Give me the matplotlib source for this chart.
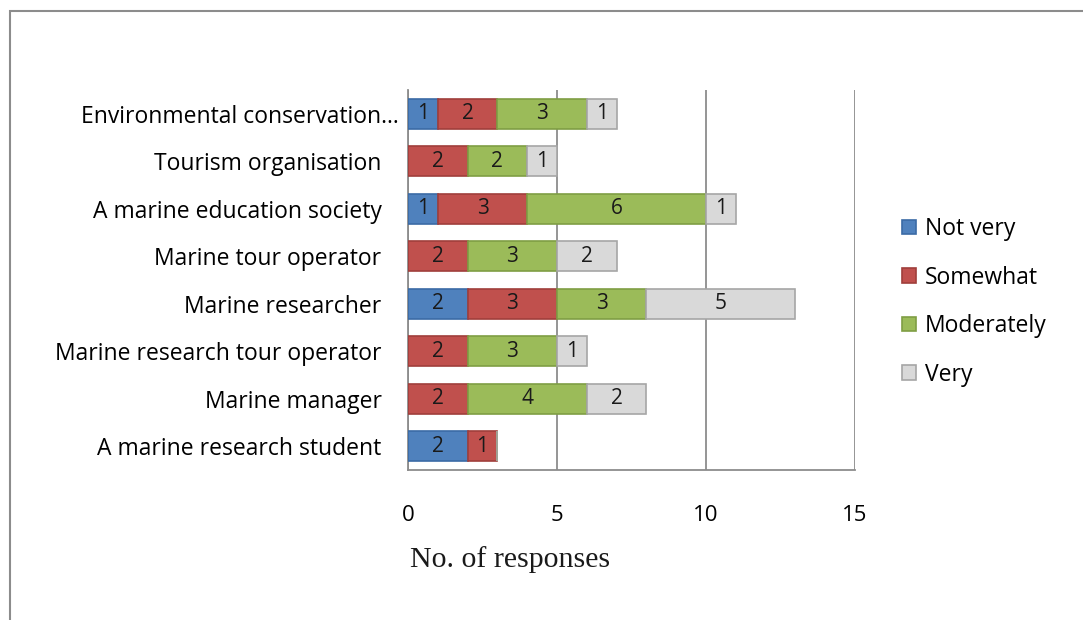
import numpy as np
import matplotlib.pyplot as plt
from matplotlib.patches import Rectangle
from matplotlib.transforms import ScaledTranslation

categories = ['Environmental conservation...', 'Tourism organisation',
              'A marine education society', 'Marine tour operator',
              'Marine researcher', 'Marine research tour operator',
              'Marine manager', 'A marine research student']
not_very = [1, 0, 1, 0, 2, 0, 0, 2]
somewhat = [2, 2, 3, 2, 3, 2, 2, 1]
moderately = [3, 2, 6, 3, 3, 3, 4, 0]
very = [1, 1, 1, 2, 5, 1, 2, 0]
series = ['Not very', 'Somewhat', 'Moderately', 'Very']

faces = ['#4F81BD', '#C0504D', '#9BBB59', '#D9D9D9']
edges = ['#3B6BA5', '#A03E3B', '#7F9E44', '#A6A6A6']

W, H = 1083, 620
fig = plt.figure(figsize=(W / 100, H / 100), dpi=100)
ax = fig.add_axes([408 / W, 1 - 470 / H, (855 - 408) / W, (470 - 90) / H])

font = ['Open Sans', 'DejaVu Sans']
y = np.arange(len(categories))
left = np.zeros(len(categories))
for vals, name, fc, ec in zip([not_very, somewhat, moderately, very], series, faces, edges):
    vals = np.array(vals, dtype=float)
    bars = ax.barh(y, vals, left=left, height=0.63, color=fc, edgecolor=ec,
                   linewidth=1.2, label=name, zorder=3)
    for b, v in zip(bars, vals):
        if v > 0:
            ax.text(b.get_x() + v / 2, b.get_y() + b.get_height() / 2, f'{int(v)}',
                    ha='center', va='center', fontsize=15, family=font,
                    color='#1a1a1a', zorder=4)
    left += vals

ax.set_xlim(0, 15)
ax.set_ylim(len(categories) - 0.5, -0.5)
ax.set_xticks([0, 5, 10, 15])
ax.set_yticks(y)
ax.set_yticklabels(categories, family=font, fontsize=16.5)
for lbl in ax.get_xticklabels():
    lbl.set_family(font)
    lbl.set_fontsize(16)
ax.tick_params(axis='x', length=0, pad=25)
ax.tick_params(axis='y', length=0, pad=19)
ax.xaxis.grid(True, color='#8c8c8c', linewidth=1.3, zorder=0)
ax.set_axisbelow(True)
for s in ['top', 'right']:
    ax.spines[s].set_visible(False)
for s in ['left', 'bottom']:
    ax.spines[s].set_color('#8c8c8c')
    ax.spines[s].set_linewidth(1.3)

# truncated first label runs a little past the others
first = ax.get_yticklabels()[0]
first.set_transform(first.get_transform() + ScaledTranslation(0.17, 0, fig.dpi_scale_trans))

leg = fig.legend(loc='upper left', bbox_to_anchor=(893 / W, 1 - 208 / H),
                 frameon=False, prop={'family': font, 'size': 16.5},
                 handlelength=0.6, handleheight=0.6, handletextpad=0.4,
                 labelspacing=1.07, borderaxespad=0)

fig.text(410 / W, 1 - 560 / H, 'No. of responses', family='Liberation Serif',
         fontsize=21.5, ha='left', va='center', color='#1a1a1a')

# outer chart frame
fig.patches.append(Rectangle((10 / W, -0.05), 1.1, 1 - 11 / H + 0.05,
                             transform=fig.transFigure, fill=False,
                             edgecolor='#8c8c8c', linewidth=1.5))

fig.savefig('out.png', dpi=100)
